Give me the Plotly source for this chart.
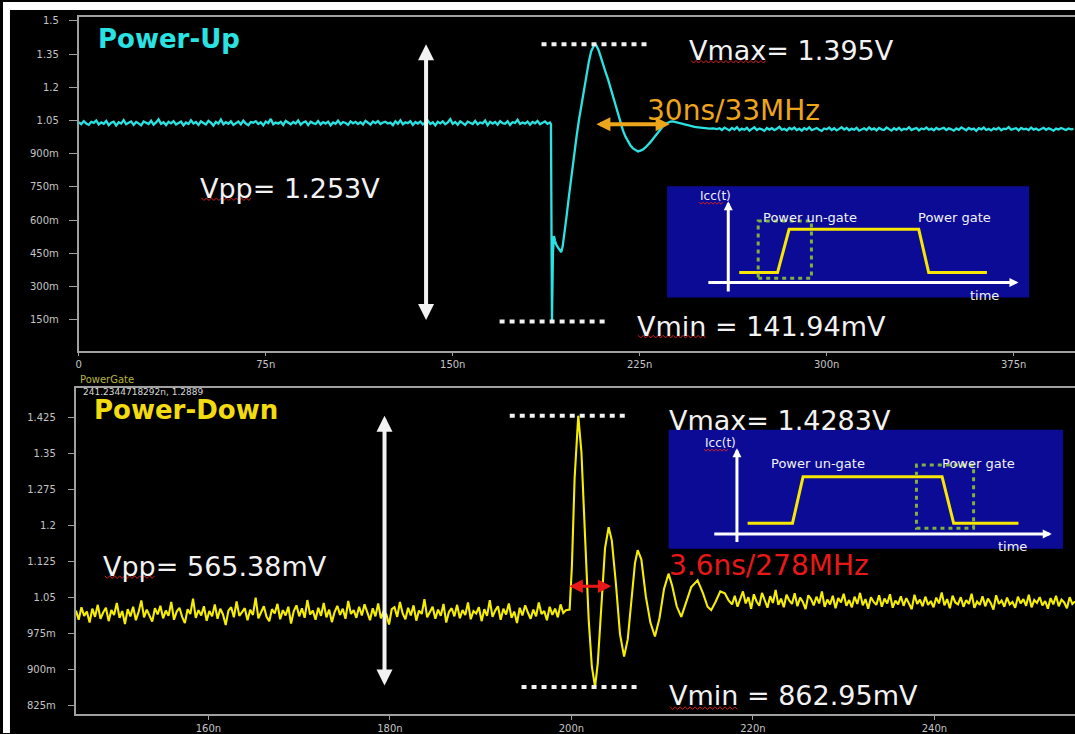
import numpy as np
import plotly.graph_objects as go

W, H = 1075, 734

# ---------------- Power-up capture (cyan trace) ----------------
VMAX_UP = 1.395
VMIN_UP = 0.14194
VPP_UP = 1.253
RING_UP_NS, RING_UP_MHZ = 30, 33

UP_STEP = 1.0          # ns between samples on the quiet stretches
UP_PRE_START = 0.0
up_pre = [
    1.042, 1.033, 1.047, 1.036, 1.030, 1.044, 1.039, 1.050, 1.032, 1.041,
    1.035, 1.048, 1.029, 1.040, 1.045, 1.027, 1.042, 1.036, 1.052, 1.033,
    1.040, 1.046, 1.030, 1.043, 1.037, 1.028, 1.045, 1.038, 1.034, 1.049,
    1.031, 1.041, 1.055, 1.035, 1.042, 1.029, 1.044, 1.037, 1.047, 1.032,
    1.038, 1.045, 1.028, 1.041, 1.034, 1.051, 1.036, 1.043, 1.030, 1.046,
    1.039, 1.032, 1.048, 1.040, 1.027, 1.044, 1.036, 1.054, 1.033, 1.042,
    1.035, 1.046, 1.030, 1.039, 1.045, 1.032, 1.049, 1.036, 1.029, 1.043,
    1.040, 1.047, 1.034, 1.042, 1.028, 1.045, 1.038, 1.057, 1.033, 1.041,
    1.036, 1.044, 1.030, 1.048, 1.039, 1.033, 1.043, 1.036, 1.050, 1.031,
    1.041, 1.046, 1.029, 1.044, 1.038, 1.034, 1.047, 1.032, 1.042, 1.036,
    1.045, 1.028, 1.041, 1.035, 1.049, 1.033, 1.043, 1.039, 1.030, 1.046,
    1.037, 1.044, 1.034, 1.042, 1.032, 1.048, 1.040, 1.031, 1.045, 1.038,
    1.047, 1.034, 1.041, 1.044, 1.036, 1.040, 1.029, 1.046, 1.035, 1.051,
    1.033, 1.042, 1.038, 1.047, 1.030, 1.043, 1.036, 1.045, 1.032, 1.040,
    1.049, 1.034, 1.042, 1.028, 1.044, 1.037, 1.046, 1.033, 1.041, 1.056,
    1.035, 1.043, 1.031, 1.046, 1.038, 1.030, 1.045, 1.039, 1.034, 1.048,
    1.032, 1.041, 1.037, 1.050, 1.029, 1.044, 1.036, 1.043, 1.031, 1.047,
    1.038, 1.035, 1.046, 1.030, 1.042, 1.039, 1.053, 1.034, 1.041, 1.036,
    1.045, 1.031, 1.043, 1.037, 1.048, 1.033, 1.040, 1.046, 1.035,
]
up_edge_t = [
    188.5, 189.0, 189.4, 189.8, 190.2, 190.6, 191.0, 191.5, 192.2, 192.9,
    193.5, 194.1, 194.8, 195.6, 196.6, 197.6, 198.6, 199.6, 200.6, 201.6,
    202.6, 203.6, 204.6, 205.5, 206.3, 206.9, 207.6, 208.5, 209.4, 210.3,
    211.3, 212.3, 213.3, 214.3, 215.3, 216.3, 217.3, 218.3, 219.3, 220.3,
    221.3, 222.3, 223.3, 224.3, 225.3, 226.3, 227.3, 228.3, 229.3, 230.3,
    231.3, 232.3, 233.3, 234.3, 235.3, 236.3, 237.3, 238.3, 239.3, 240.5,
    241.8, 243.0, 244.3, 245.6, 247.0, 248.5, 250.0, 251.5, 253.0, 254.5,
    256.0,
]
up_edge_v = [
    1.037, 1.041, 1.034, VMIN_UP, 0.452, 0.528, 0.507, 0.489, 0.476, 0.462,
    0.455, 0.481, 0.534, 0.612, 0.707, 0.803, 0.889, 0.972, 1.051, 1.118,
    1.189, 1.254, 1.316, 1.362, 1.386, VMAX_UP, 1.389, 1.368, 1.336, 1.301,
    1.268, 1.236, 1.197, 1.158, 1.117, 1.078, 1.038, 1.004, 0.977, 0.955,
    0.937, 0.924, 0.915, 0.910, 0.914, 0.919, 0.928, 0.938, 0.952, 0.966,
    0.981, 0.997, 1.011, 1.024, 1.034, 1.041, 1.045, 1.046, 1.043, 1.040,
    1.034, 1.031, 1.027, 1.024, 1.021, 1.019, 1.016, 1.015, 1.013, 1.014,
    1.011,
]
UP_POST_START = 257.0
up_post = [
    1.015, 1.007, 1.018, 1.010, 1.005, 1.016, 1.009, 1.020, 1.006, 1.013,
    1.008, 1.017, 1.004, 1.012, 1.019, 1.007, 1.014, 1.010, 1.003, 1.016,
    1.009, 1.015, 1.006, 1.013, 1.021, 1.008, 1.012, 1.005, 1.016, 1.010,
    1.018, 1.007, 1.013, 1.004, 1.015, 1.009, 1.019, 1.006, 1.012, 1.016,
    1.008, 1.003, 1.014, 1.010, 1.018, 1.007, 1.015, 1.005, 1.012, 1.020,
    1.009, 1.016, 1.006, 1.013, 1.008, 1.017, 1.004, 1.011, 1.015, 1.007,
    1.019, 1.009, 1.014, 1.005, 1.016, 1.010, 1.007, 1.018, 1.012, 1.004,
    1.015, 1.008, 1.017, 1.006, 1.013, 1.009, 1.020, 1.007, 1.012, 1.016,
    1.005, 1.014, 1.010, 1.018, 1.008, 1.013, 1.006, 1.016, 1.009, 1.012,
    1.017, 1.007, 1.015, 1.010, 1.004, 1.014, 1.008, 1.019, 1.011, 1.006,
    1.016, 1.009, 1.013, 1.003, 1.015, 1.010, 1.018, 1.007, 1.012, 1.005,
    1.014, 1.009, 1.017, 1.006, 1.013, 1.011, 1.020, 1.008, 1.012, 1.015,
    1.005, 1.016, 1.010, 1.013, 1.007, 1.018, 1.009, 1.014, 1.006, 1.012,
    1.017, 1.008, 1.015, 1.010, 1.004, 1.013, 1.009, 1.016, 1.011, 1.007,
    1.014, 1.010, 1.012,
]

# ---------------- Power-down capture (yellow trace) ----------------
VMAX_DN = 1.4283
VMIN_DN = 0.86295
VPP_DN = 0.56538
RING_DN_NS, RING_DN_MHZ = 3.6, 278
CURSOR_READOUT = "241.2344718292n, 1.2889"

DN_STEP = 0.3
DN_PRE_START = 145.4
dn_pre = [
    1.022, 1.003, 1.029, 1.011, 1.020, 0.997, 1.026, 1.009, 1.034, 1.005,
    1.018, 1.028, 1.000, 1.023, 1.013, 1.038, 1.007, 1.021, 0.994, 1.025,
    1.010, 1.030, 1.002, 1.019, 1.043, 1.008, 1.024, 1.012, 0.999, 1.027,
    1.014, 1.032, 1.006, 1.022, 1.011, 1.040, 1.003, 1.020, 1.028, 1.009,
    0.996, 1.025, 1.015, 1.047, 1.007, 1.023, 1.012, 1.031, 1.001, 1.021,
    1.010, 1.035, 1.005, 1.026, 1.014, 0.992, 1.022, 1.029, 1.008, 1.041,
    1.011, 1.019, 1.027, 1.002, 1.024, 1.013, 1.049, 1.006, 1.020, 1.031,
    1.009, 1.000, 1.025, 1.016, 1.036, 1.004, 1.023, 1.012, 1.030, 0.995,
    1.021, 1.033, 1.010, 1.027, 1.007, 1.044, 1.014, 1.022, 1.003, 1.028,
    1.011, 1.038, 1.008, 1.024, 0.998, 1.019, 1.032, 1.013, 1.026, 1.005,
    1.042, 1.015, 1.023, 1.007, 1.030, 1.012, 1.035, 1.018, 1.002, 1.027,
    1.010, 1.037, 1.006, 1.021, 1.014, 0.993, 1.025, 1.029, 1.009, 1.040,
    1.016, 1.004, 1.028, 1.012, 1.033, 1.001, 1.022, 1.015, 1.046, 1.008,
    1.020, 1.030, 1.005, 1.024, 1.011, 1.036, 0.997, 1.019, 1.027, 1.010,
    1.034, 1.006, 1.023, 1.013, 1.039, 1.004, 1.021, 1.016, 1.029, 1.000,
    1.025, 1.011, 1.044, 1.009, 1.022, 1.031, 1.003, 1.026, 1.014, 1.037,
    1.007, 1.020, 0.996, 1.028, 1.012, 1.033, 1.018, 1.005, 1.024, 1.010,
    1.039, 1.015, 1.021, 1.002, 1.030, 1.013, 1.026, 1.008, 1.035, 1.017,
    1.023,
]
dn_edge_t = [
    199.8, 200.05, 200.35, 200.75, 201.1, 201.5, 201.9, 202.25, 202.6, 202.9,
    203.3, 203.7, 204.1, 204.45, 204.9, 205.35, 205.8, 206.2, 206.7, 207.0,
    207.3, 207.7, 208.2, 208.7, 209.2, 209.7, 210.2, 210.7, 211.1, 211.6,
    212.1, 212.6, 213.2, 213.9, 214.5, 215.0, 215.4, 215.9, 216.4, 216.9,
    217.3,
]
dn_edge_v = [
    1.024, 1.115, 1.298, VMAX_DN, 1.352, 1.176, 1.003, 0.905, VMIN_DN, 0.912,
    1.041, 1.152, 1.196, 1.168, 1.078, 0.973, 0.926, 0.962, 1.061, 1.121,
    1.148, 1.129, 1.051, 0.997, 0.968, 1.006, 1.067, 1.099, 1.074, 1.031,
    1.009, 1.038, 1.071, 1.085, 1.058, 1.030, 1.023, 1.041, 1.062, 1.058,
    1.044,
]
DN_POST_START = 217.7
dn_post = [
    1.035, 1.053, 1.030, 1.048, 1.062, 1.037, 1.050, 1.026, 1.056, 1.041,
    1.032, 1.059, 1.045, 1.028, 1.052, 1.038, 1.065, 1.034, 1.047, 1.029,
    1.055, 1.043, 1.036, 1.058, 1.031, 1.049, 1.040, 1.025, 1.054, 1.046,
    1.033, 1.051, 1.037, 1.062, 1.030, 1.045, 1.035, 1.053, 1.027, 1.048,
    1.039, 1.057, 1.032, 1.044, 1.029, 1.051, 1.036, 1.059, 1.033, 1.046,
    1.026, 1.050, 1.040, 1.034, 1.054, 1.030, 1.047, 1.037, 1.056, 1.028,
    1.043, 1.035, 1.052, 1.032, 1.048, 1.038, 1.025, 1.055, 1.036, 1.045,
    1.031, 1.051, 1.034, 1.042, 1.029, 1.049, 1.037, 1.060, 1.033, 1.046,
    1.027, 1.053, 1.039, 1.035, 1.050, 1.030, 1.044, 1.036, 1.057, 1.028,
    1.041, 1.034, 1.052, 1.031, 1.047, 1.038, 1.024, 1.054, 1.036, 1.043,
    1.030, 1.049, 1.035, 1.040, 1.028, 1.051, 1.037, 1.046, 1.032, 1.055,
    1.029, 1.044, 1.038, 1.050, 1.033, 1.042, 1.026, 1.048, 1.035, 1.053,
    1.031, 1.045, 1.039, 1.027, 1.050, 1.036, 1.041,
]

# ---------------- Axis ticks ----------------
UP_XTICKS = [0, 75, 150, 225, 300, 375]
UP_XTEXT = ["0", "75n", "150n", "225n", "300n", "375n"]
UP_YTICKS = [0.15, 0.3, 0.45, 0.6, 0.75, 0.9, 1.05, 1.2, 1.35, 1.5]
UP_YTEXT = ["150m", "300m", "450m", "600m", "750m", "900m", "1.05", "1.2", "1.35", "1.5"]
DN_XTICKS = [160, 180, 200, 220, 240]
DN_XTEXT = ["160n", "180n", "200n", "220n", "240n"]
DN_YTICKS = [0.825, 0.9, 0.975, 1.05, 1.125, 1.2, 1.275, 1.35, 1.425]
DN_YTEXT = ["825m", "900m", "975m", "1.05", "1.125", "1.2", "1.275", "1.35", "1.425"]


def sampled(start, step, values):
    """Uniform scope sample clock for a stretch of captured values."""
    return list(start + step * np.arange(len(values)))


t_up = sampled(UP_PRE_START, UP_STEP, up_pre) + up_edge_t + sampled(UP_POST_START, UP_STEP, up_post)
v_up = up_pre + up_edge_v + up_post
t_dn = sampled(DN_PRE_START, DN_STEP, dn_pre) + dn_edge_t + sampled(DN_POST_START, DN_STEP, dn_post)
v_dn = dn_pre + dn_edge_v + dn_post


def px(x):
    return x / W


def py(y):
    return 1 - y / H


CYAN = "#2ae2e2"
YELLOW = "#f6ee00"
WHITE = "#f2f2f2"
ORANGE = "#eda51c"
RED = "#e81818"
NAVY = "#0b0b96"
GREEN = "#7fb040"
BIG = "DejaVu Sans"

fig = go.Figure()
fig.add_trace(go.Scatter(x=t_up, y=v_up, mode="lines", line=dict(color=CYAN, width=2.3),
                         xaxis="x", yaxis="y", hoverinfo="skip"))
fig.add_trace(go.Scatter(x=t_dn, y=v_dn, mode="lines", line=dict(color=YELLOW, width=2.1),
                         xaxis="x2", yaxis="y2", hoverinfo="skip"))

axis_common = dict(showgrid=False, zeroline=False, showline=True, linecolor="#a0a0a0",
                   linewidth=2, ticks="outside", tickcolor="#a0a0a0", tickwidth=1,
                   tickmode="array", fixedrange=True,
                   tickfont=dict(family="DejaVu Sans", size=10, color="#c4c4c4"))

shapes = [
    # white page margin on the left and top
    dict(type="rect", xref="paper", yref="paper", x0=0, x1=px(7), y0=0, y1=1,
         fillcolor="white", line=dict(width=0), layer="above"),
    dict(type="rect", xref="paper", yref="paper", x0=0, x1=1, y0=py(8), y1=1,
         fillcolor="white", line=dict(width=0), layer="above"),
]

# dotted extreme-level markers
dot = dict(color=WHITE, width=4, dash="5px,5px")
shapes += [
    dict(type="line", xref="x", yref="y", x0=185.6, x1=228.8, y0=VMAX_UP, y1=VMAX_UP, line=dot),
    dict(type="line", xref="x", yref="y", x0=168.8, x1=212.8, y0=VMIN_UP, y1=VMIN_UP, line=dot),
    dict(type="line", xref="x2", yref="y2", x0=193.2, x1=206.4, y0=VMAX_DN, y1=VMAX_DN, line=dot),
    dict(type="line", xref="x2", yref="y2", x0=194.5, x1=207.5, y0=VMIN_DN, y1=VMIN_DN, line=dot),
]


def squiggle(x0, x1, y, amp=1.3, step=2.5):
    pts, x, up = [], x0, True
    while x <= x1:
        pts.append((x, y - amp if up else y + amp))
        up = not up
        x += step
    path = "M " + " L ".join(f"{px(a):.5f},{py(b):.5f}" for a, b in pts)
    return dict(type="path", xref="paper", yref="paper", path=path,
                line=dict(color="#d42020", width=1), layer="above")


def polyline(points, color, width):
    path = "M " + " L ".join(f"{px(a):.5f},{py(b):.5f}" for a, b in points)
    return dict(type="path", xref="paper", yref="paper", path=path,
                line=dict(color=color, width=width), layer="above")


annotations = []


def label(text, x, y, size, color, bold=False):
    annotations.append(dict(x=px(x), y=py(y), xref="paper", yref="paper", xanchor="left",
                            yanchor="middle", showarrow=False,
                            text=f"<b>{text}</b>" if bold else text,
                            font=dict(family=BIG, size=size, color=color)))


def arrow_px(tip, tail, color, width, size):
    annotations.append(dict(x=px(tip[0]), y=py(tip[1]), xref="paper", yref="paper",
                            ax=tail[0] - tip[0], ay=tail[1] - tip[1], text="",
                            showarrow=True, arrowhead=2, arrowsize=size, arrowwidth=width,
                            arrowcolor=color, standoff=0))


def double_arrow(xr, yr, x0, y0, x1, y1, color, width, size):
    annotations.append(dict(x=x1, y=y1, ax=x0, ay=y0, xref=xr, yref=yr, axref=xr, ayref=yr,
                            text="", showarrow=True, arrowside="end+start",
                            arrowhead=2, startarrowhead=2, arrowsize=size, startarrowsize=size,
                            arrowwidth=width, arrowcolor=color, standoff=0, startstandoff=0))


def inset(box, vaxis, haxis, icc, step, gate_rect, ungate_lbl, gate_lbl, time_lbl):
    shapes.append(dict(type="rect", xref="paper", yref="paper", x0=px(box[0]), x1=px(box[2]),
                       y0=py(box[3]), y1=py(box[1]), fillcolor=NAVY, line=dict(width=0),
                       layer="above"))
    shapes.append(polyline(step, "#f8e800", 3))
    shapes.append(dict(type="rect", xref="paper", yref="paper", x0=px(gate_rect[0]),
                       x1=px(gate_rect[2]), y0=py(gate_rect[3]), y1=py(gate_rect[1]),
                       line=dict(color=GREEN, width=3, dash="4px,4px"),
                       fillcolor="rgba(0,0,0,0)", layer="above"))
    arrow_px(vaxis[0], vaxis[1], "white", 3, 0.6)
    arrow_px(haxis[0], haxis[1], "white", 3, 0.6)
    label("Icc(t)", icc[0], icc[1], 12, WHITE)
    shapes.append(squiggle(icc[0] + 1, icc[0] + 25, icc[1] + 7, amp=1.0, step=2))
    label("Power un-gate", ungate_lbl[0], ungate_lbl[1], 13, WHITE)
    label("Power gate", gate_lbl[0], gate_lbl[1], 13, WHITE)
    label("time", time_lbl[0], time_lbl[1], 13, WHITE)


# ---- upper panel decorations ----
label("Power-Up", 93, 37, 26, CYAN, bold=True)
label(f"Vmax= {VMAX_UP:.3f}V", 686, 49, 27, WHITE)
label(f"{RING_UP_NS}ns/{RING_UP_MHZ}MHz", 644, 109, 28, ORANGE)
label(f"Vpp= {VPP_UP:.3f}V", 196, 187.5, 27, WHITE)
label(f"Vmin = {VMIN_UP * 1000:.2f}mV", 634, 326, 27, WHITE)
shapes += [squiggle(690, 765, 60), squiggle(199, 250, 198), squiggle(637, 705, 336)]
double_arrow("x", "y", 139.3, VMIN_UP, 139.3, VMAX_UP, WHITE, 4, 0.8)
double_arrow("x", "y", 207.0, 1.033, 237.0, 1.033, ORANGE, 4, 0.7)
inset(box=(666, 185, 1029, 296.7),
      vaxis=((727.3, 200), (727.3, 291.7)),
      haxis=((1018.3, 281.7), (706.7, 281.7)),
      icc=(697, 195),
      step=[(738.3, 271.7), (776.7, 271.7), (788.3, 228.3), (918.3, 228.3),
            (928.3, 271.7), (986.7, 271.7)],
      gate_rect=(757.3, 220, 810.7, 277.3),
      ungate_lbl=(760, 216), gate_lbl=(916, 216), time_lbl=(968, 295))

# ---- lower panel decorations ----
annotations.append(dict(x=px(75), y=py(379), xref="paper", yref="paper", xanchor="left",
                        yanchor="middle", showarrow=False, text="PowerGate",
                        font=dict(family="DejaVu Sans", size=10, color="#b8b440")))
annotations.append(dict(x=px(78), y=py(392), xref="paper", yref="paper", xanchor="left",
                        yanchor="middle", showarrow=False, text=CURSOR_READOUT,
                        font=dict(family="DejaVu Sans", size=9, color="#d8d8d8")))
label("Power-Down", 89, 410, 26, "#f2dc10", bold=True)
label(f"Vmax= {VMAX_DN:.4f}V", 666, 420.5, 27, WHITE)
label(f"Vpp= {VPP_DN * 1000:.2f}mV", 98, 566.5, 27, WHITE)
label(f"{RING_DN_NS}ns/{RING_DN_MHZ}MHz", 666, 565.5, 28, RED)
label(f"Vmin = {VMIN_DN * 1000:.2f}mV", 666, 696, 27, WHITE)
shapes += [squiggle(102, 153, 577.5), squiggle(669, 737, 709)]
double_arrow("x2", "y2", 179.4, VMIN_DN, 179.4, VMAX_DN, WHITE, 4, 0.8)
double_arrow("x2", "y2", 199.6, 1.0726, 204.4, 1.0726, RED, 3, 0.9)
inset(box=(667.5, 429.5, 1063, 549),
      vaxis=((736, 448), (736, 543.3)),
      haxis=((1051.7, 534.3), (712.7, 534.3)),
      icc=(702, 443),
      step=[(746.7, 523.3), (791.7, 523.3), (802.3, 476.7), (941.7, 476.7),
            (953.3, 523.3), (1018.3, 523.3)],
      gate_rect=(916, 465, 973.3, 528.3),
      ungate_lbl=(768, 463.5), gate_lbl=(940, 463.5), time_lbl=(996, 547))

fig.update_layout(
    width=W, height=H, margin=dict(l=0, r=0, t=0, b=0),
    paper_bgcolor="black", plot_bgcolor="black", showlegend=False, hovermode=False,
    xaxis=dict(**axis_common, domain=[px(76), 1], range=[0, 399.6], tickvals=UP_XTICKS,
               ticktext=UP_XTEXT, ticklen=3, mirror=True, anchor="y"),
    yaxis=dict(**axis_common, domain=[py(350), py(15)], range=[0.01, 1.518],
               tickvals=UP_YTICKS, ticktext=UP_YTEXT, ticklen=8, ticklabelstandoff=8,
               anchor="x"),
    xaxis2=dict(**axis_common, domain=[px(73), 1], range=[145.38, 255.49], tickvals=DN_XTICKS,
                ticktext=DN_XTEXT, ticklen=4, mirror=True, anchor="y2"),
    yaxis2=dict(**axis_common, domain=[py(715), py(388)], range=[0.8063, 1.4852],
                tickvals=DN_YTICKS, ticktext=DN_YTEXT, ticklen=6, ticklabelstandoff=10,
                anchor="x2"),
    shapes=shapes, annotations=annotations,
)

fig.write_html("out.html")
